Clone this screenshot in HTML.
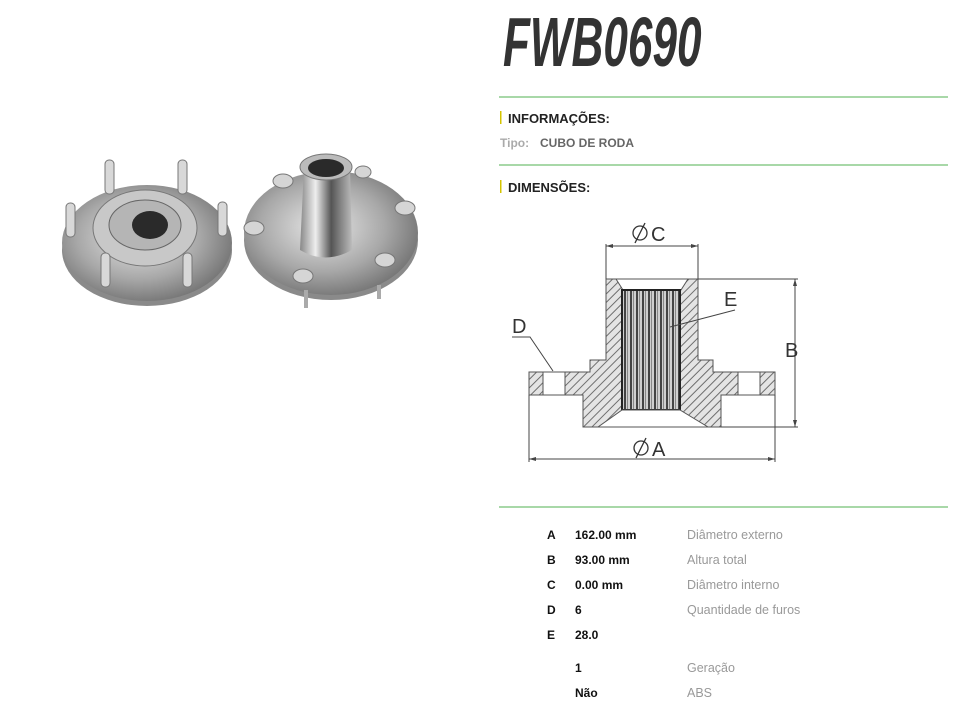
<!DOCTYPE html>
<html><head><meta charset="utf-8"><style>
html,body{margin:0;padding:0;background:#fff;}
body{width:959px;height:717px;overflow:hidden;position:relative;font-family:"Liberation Sans",sans-serif;}
</style></head><body>
<svg width="959" height="717" viewBox="0 0 959 717" xmlns="http://www.w3.org/2000/svg" style="position:absolute;left:0;top:0">
<defs>
<pattern id="h" width="6" height="6" patternUnits="userSpaceOnUse" patternTransform="rotate(45)">
<rect width="6" height="6" fill="#e4e4e4"/><line x1="0" y1="0" x2="0" y2="6" stroke="#6e6e6e" stroke-width="2"/>
</pattern>
<pattern id="sp" width="6" height="10" patternUnits="userSpaceOnUse">
<rect width="6" height="10" fill="#cfcfcf"/><rect x="0" width="2" height="10" fill="#444"/><rect x="3" width="1" height="10" fill="#888"/>
</pattern>
<radialGradient id="g1" cx="45%" cy="45%" r="60%"><stop offset="0" stop-color="#e8e8e8"/><stop offset="0.6" stop-color="#a8a8a8"/><stop offset="1" stop-color="#707070"/></radialGradient>
<linearGradient id="g2" x1="0" x2="1"><stop offset="0" stop-color="#888"/><stop offset="0.3" stop-color="#eee"/><stop offset="0.6" stop-color="#555"/><stop offset="1" stop-color="#bbb"/></linearGradient>
</defs>

<!-- left hub photo -->
<ellipse cx="147" cy="250" rx="85" ry="56" fill="#8a8a8a"/>
<ellipse cx="147" cy="243" rx="85" ry="58" fill="url(#g1)"/>
<ellipse cx="145" cy="228" rx="52" ry="38" fill="#c8c8c8" stroke="#777"/>
<ellipse cx="145" cy="225" rx="36" ry="25" fill="#b5b5b5" stroke="#666"/>
<ellipse cx="150" cy="225" rx="18" ry="14" fill="#2a2a2a"/>
<g fill="#d8d8d8" stroke="#777">
<rect x="105" y="160" width="9" height="34" rx="4"/><rect x="178" y="160" width="9" height="34" rx="4"/>
<rect x="66" y="203" width="9" height="34" rx="4"/><rect x="218" y="202" width="9" height="34" rx="4"/>
<rect x="101" y="253" width="9" height="34" rx="4"/><rect x="183" y="253" width="9" height="34" rx="4"/>
</g>
<!-- right hub photo -->
<ellipse cx="331" cy="240" rx="87" ry="60" fill="#8a8a8a"/>
<ellipse cx="331" cy="233" rx="87" ry="62" fill="url(#g1)"/>
<path d="M304 168 L300 250 Q325 265 352 250 L350 168 Z" fill="url(#g2)"/>
<ellipse cx="326" cy="167" rx="26" ry="13" fill="#bbb" stroke="#777"/>
<ellipse cx="326" cy="168" rx="18" ry="9" fill="#2a2a2a"/>
<g fill="#d5d5d5" stroke="#777">
<ellipse cx="283" cy="181" rx="10" ry="7"/><ellipse cx="405" cy="208" rx="10" ry="7"/>
<ellipse cx="254" cy="228" rx="10" ry="7"/><ellipse cx="385" cy="260" rx="10" ry="7"/>
<ellipse cx="303" cy="276" rx="10" ry="7"/><ellipse cx="363" cy="172" rx="8" ry="6"/>
</g>
<rect x="304" y="290" width="4" height="18" fill="#aaa"/><rect x="377" y="285" width="4" height="14" fill="#aaa"/>

<!-- title -->
<text x="0" y="66" transform="translate(503,0) scale(0.63,1)" font-size="70" font-weight="bold" font-style="italic" fill="#333">FWB0690</text>

<g stroke="#a8d8a8" stroke-width="2"><line x1="499" y1="97" x2="948" y2="97"/><line x1="499" y1="165" x2="948" y2="165"/><line x1="499" y1="507" x2="948" y2="507"/></g>
<rect x="500" y="111" width="1.5" height="13" fill="#d4c400"/>
<rect x="500" y="180" width="1.5" height="13" fill="#d4c400"/>
<text x="508" y="123" font-size="13" font-weight="bold" fill="#222">INFORMAÇÕES:</text>
<text x="500" y="147" font-size="12" font-weight="bold" fill="#aaa">Tipo:</text>
<text x="540" y="147" font-size="12" font-weight="bold" fill="#666">CUBO DE RODA</text>
<text x="508" y="192" font-size="13" font-weight="bold" fill="#222">DIMENSÕES:</text>

<!-- drawing -->
<path d="M606 279 L698 279 L698 360 L713 360 L713 372 L775 372 L775 395 L721 395 L721 427 L583 427 L583 395 L529 395 L529 372 L590 372 L590 360 L606 360 Z" fill="url(#h)" stroke="#555"/>
<rect x="543" y="372" width="22" height="23" fill="#fff" stroke="#555"/>
<rect x="738" y="372" width="22" height="23" fill="#fff" stroke="#555"/>
<path d="M616 279 L688 279 L681 290 L623 290 Z" fill="#fff" stroke="#555"/>
<rect x="622" y="290" width="58" height="120" fill="url(#sp)" stroke="#222" stroke-width="2"/>
<path d="M622 410 L680 410 L708 427 L598 427 Z" fill="#fff" stroke="#555"/>
<g stroke="#444" stroke-width="1" fill="none">
<line x1="606" y1="244" x2="606" y2="279"/><line x1="698" y1="244" x2="698" y2="279"/>
<line x1="606" y1="246" x2="698" y2="246"/>
<line x1="698" y1="279" x2="798" y2="279"/><line x1="721" y1="427" x2="798" y2="427"/>
<line x1="795" y1="279" x2="795" y2="427"/>
<line x1="529" y1="395" x2="529" y2="462"/><line x1="775" y1="395" x2="775" y2="462"/>
<line x1="529" y1="459" x2="775" y2="459"/>
<polyline points="512,337 530,337 553,371"/>
<line x1="735" y1="310" x2="670" y2="327"/>
</g>
<g fill="#444">
<path d="M606 246 l7 -2 v4z"/><path d="M698 246 l-7 -2 v4z"/>
<path d="M795 279 l-2 7 h4z"/><path d="M795 427 l-2 -7 h4z"/>
<path d="M529 459 l7 -2 v4z"/><path d="M775 459 l-7 -2 v4z"/>
</g>
<g fill="none" stroke="#333" stroke-width="1.3">
<circle cx="640" cy="233" r="7"/><line x1="635" y1="243" x2="645" y2="223"/>
<circle cx="641" cy="448" r="7"/><line x1="636" y1="458" x2="646" y2="438"/>
</g>
<g font-size="20" fill="#333">
<text x="651" y="241">C</text>
<text x="652" y="456">A</text>
<text x="785" y="357">B</text>
<text x="512" y="333">D</text>
<text x="724" y="306">E</text>
</g>

<!-- table -->
<g font-size="12" font-weight="bold" fill="#111">
<text x="547" y="539">A</text><text x="575" y="539">162.00 mm</text>
<text x="547" y="564">B</text><text x="575" y="564">93.00 mm</text>
<text x="547" y="589">C</text><text x="575" y="589">0.00 mm</text>
<text x="547" y="614">D</text><text x="575" y="614">6</text>
<text x="547" y="639">E</text><text x="575" y="639">28.0</text>
<text x="575" y="672">1</text><text x="575" y="697">Não</text>
</g>
<g font-size="12.5" fill="#999">
<text x="687" y="539">Diâmetro externo</text>
<text x="687" y="564">Altura total</text>
<text x="687" y="589">Diâmetro interno</text>
<text x="687" y="614">Quantidade de furos</text>
<text x="687" y="672">Geração</text>
<text x="687" y="697">ABS</text>
</g>
</svg>
</body></html>
